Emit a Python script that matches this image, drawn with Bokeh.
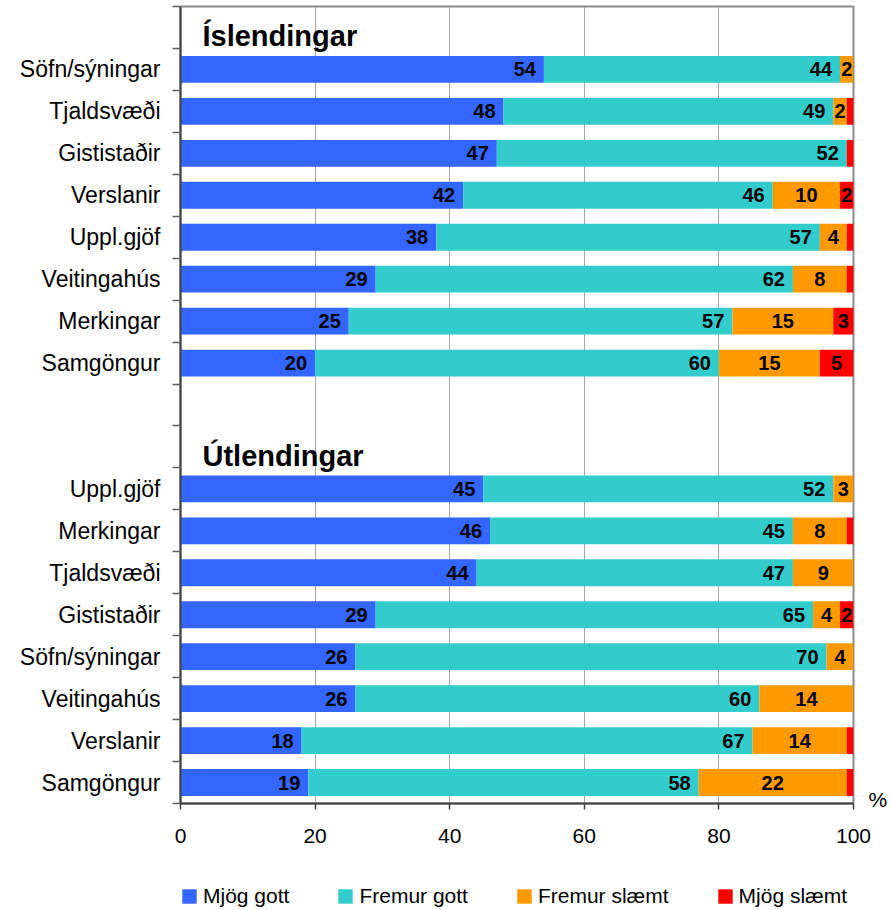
from bokeh.plotting import figure
from bokeh.models import (Range1d, FixedTicker, ColumnDataSource, Legend, LegendItem,
                          LinearAxis)
from bokeh.layouts import column
from bokeh.embed import file_html
from bokeh.resources import INLINE
from bokeh.core.properties import value

# ---------------- data ----------------
series_names = ["Mjög gott", "Fremur gott", "Fremur slæmt", "Mjög slæmt"]
series_colors = ["#3366FF", "#33CCCC", "#FF9900", "#FF0000"]

group_titles = ["Íslendingar", "Útlendingar"]

isl_categories = ["Söfn/sýningar", "Tjaldsvæði", "Gististaðir", "Verslanir",
                  "Uppl.gjöf", "Veitingahús", "Merkingar", "Samgöngur"]
isl_mjog_gott = [54, 48, 47, 42, 38, 29, 25, 20]
isl_fremur_gott = [44, 49, 52, 46, 57, 62, 57, 60]
isl_fremur_slaemt = [2, 2, 0, 10, 4, 8, 15, 15]
isl_mjog_slaemt = [0, 1, 1, 2, 1, 1, 3, 5]

utl_categories = ["Uppl.gjöf", "Merkingar", "Tjaldsvæði", "Gististaðir",
                  "Söfn/sýningar", "Veitingahús", "Verslanir", "Samgöngur"]
utl_mjog_gott = [45, 46, 44, 29, 26, 26, 18, 19]
utl_fremur_gott = [52, 45, 47, 65, 70, 60, 67, 58]
utl_fremur_slaemt = [3, 8, 9, 4, 4, 14, 14, 22]
utl_mjog_slaemt = [0, 1, 0, 2, 0, 0, 1, 1]

x_ticks = [0, 20, 40, 60, 80, 100]
unit_label = "%"

# ---------------- layout of slots ----------------
# slot 0: header 1, slots 1-8: group 1, slot 9: empty, slot 10: header 2, slots 11-18: group 2
n_slots = 19
isl_slots = [1 + i for i in range(len(isl_categories))]
utl_slots = [11 + i for i in range(len(utl_categories))]
header_slots = [0, 10]

categories = isl_categories + utl_categories
slots = isl_slots + utl_slots
ycenters = [s + 0.5 for s in slots]
series_values = [
    isl_mjog_gott + utl_mjog_gott,
    isl_fremur_gott + utl_fremur_gott,
    isl_fremur_slaemt + utl_fremur_slaemt,
    isl_mjog_slaemt + utl_mjog_slaemt,
]

FONT = "Liberation Sans"

p = figure(width=890, height=856,
           x_range=Range1d(0, 100), y_range=Range1d(n_slots, 0),
           output_backend="svg", toolbar_location=None,
           min_border_left=180, min_border_right=35,
           min_border_top=6, min_border_bottom=53)

p.background_fill_color = "white"
p.border_fill_color = "white"
p.outline_line_color = "#8c8c8c"
p.outline_line_width = 2

# grid
p.ygrid.grid_line_color = None
p.xgrid.grid_line_color = "#a6a6a6"
p.xgrid.grid_line_width = 1

# x axis
p.xaxis.ticker = FixedTicker(ticks=x_ticks, minor_ticks=[])
p.xaxis.axis_line_color = "#404040"
p.xaxis.axis_line_width = 2
p.xaxis.major_tick_line_color = "#404040"
p.xaxis.major_tick_line_width = 1.5
p.xaxis.major_tick_out = 6
p.xaxis.major_tick_in = 0
p.xaxis.major_label_text_font = FONT
p.xaxis.major_label_text_font_size = "21px"
p.xaxis.major_label_text_color = "black"
p.xaxis.major_label_standoff = 19

# y axis
p.yaxis.ticker = FixedTicker(ticks=ycenters, minor_ticks=list(range(n_slots + 1)))
p.yaxis.major_label_overrides = {yc: c for yc, c in zip(ycenters, categories)}
p.yaxis.axis_line_color = "#404040"
p.yaxis.axis_line_width = 2
p.yaxis.major_tick_out = 0
p.yaxis.major_tick_in = 0
p.yaxis.minor_tick_out = 8
p.yaxis.minor_tick_in = 0
p.yaxis.minor_tick_line_color = "#606060"
p.yaxis.minor_tick_line_width = 1.5
p.yaxis.major_label_text_font = FONT
p.yaxis.major_label_text_font_size = "23px"
p.yaxis.major_label_text_color = "black"
p.yaxis.major_label_standoff = 12

# right axis carrying only the unit sign
unit_axis = LinearAxis(ticker=FixedTicker(ticks=[18.9], minor_ticks=[]),
                       major_label_overrides={18.9: unit_label},
                       axis_line_color=None, major_tick_line_color=None,
                       minor_tick_line_color=None, major_tick_out=0,
                       major_label_standoff=15, major_label_text_font=FONT,
                       major_label_text_font_size="21px",
                       major_label_text_color="black")
p.add_layout(unit_axis, "right")

# bars
cum = [0] * len(categories)
for k, (name, color) in enumerate(zip(series_names, series_colors)):
    vals = series_values[k]
    left = cum[:]
    right = [l + v for l, v in zip(left, vals)]
    cum = right
    src = ColumnDataSource(dict(y=ycenters, left=left, right=right))
    p.hbar(y="y", left="left", right="right", height=0.64, source=src,
           fill_color=color, line_color=None)

    # labels
    ly, lx, lt = [], [], []
    for yc, l, rr, v in zip(ycenters, left, right, vals):
        if v >= 2:
            ly.append(yc)
            lx.append(rr if k < 2 else (l + rr) / 2)
            lt.append(str(v))
    lsrc = ColumnDataSource(dict(x=lx, y=ly, t=lt))
    p.text(x="x", y="y", text="t", source=lsrc,
           text_align="right" if k < 2 else "center",
           x_offset=-8 if k < 2 else 0,
           text_baseline="middle",
           text_font=value(FONT), text_font_style="bold",
           text_font_size="20px", text_color="black")

# group headers
hsrc = ColumnDataSource(dict(x=[0, 0], y=[s + 0.71 for s in header_slots], t=group_titles))
p.text(x="x", y="y", text="t", source=hsrc, x_offset=22,
       text_align="left", text_baseline="alphabetic",
       text_font=value(FONT), text_font_style="bold",
       text_font_size="29px", text_color="black")

# ---------------- legend strip (its frame lines up with the main plot frame) ----------------
lp = figure(width=890, height=52, x_range=Range1d(0, 1), y_range=Range1d(0, 1),
            output_backend="svg", toolbar_location=None,
            x_axis_location=None, y_axis_location=None,
            min_border_left=180, min_border_right=35, min_border_top=0, min_border_bottom=0)
lp.outline_line_color = None
lp.grid.grid_line_color = None
items = []
for name, color in zip(series_names, series_colors):
    # one bar kept outside the visible range, only so the legend has a swatch to draw
    r = lp.hbar(y=[-5], left=[0], right=[1], height=1, fill_color=color, line_color=None)
    items.append(LegendItem(label=name, renderers=[r]))
legend = Legend(items=items, location=(0, 0), orientation="horizontal",
                background_fill_alpha=0, border_line_alpha=0,
                padding=0, margin=0, spacing=47,
                glyph_width=18, glyph_height=18,
                label_standoff=5, label_text_font=FONT,
                label_text_font_size="21px", label_text_color="black")
lp.add_layout(legend)

open("out.html", "w").write(file_html(column(p, lp, spacing=0), INLINE))
